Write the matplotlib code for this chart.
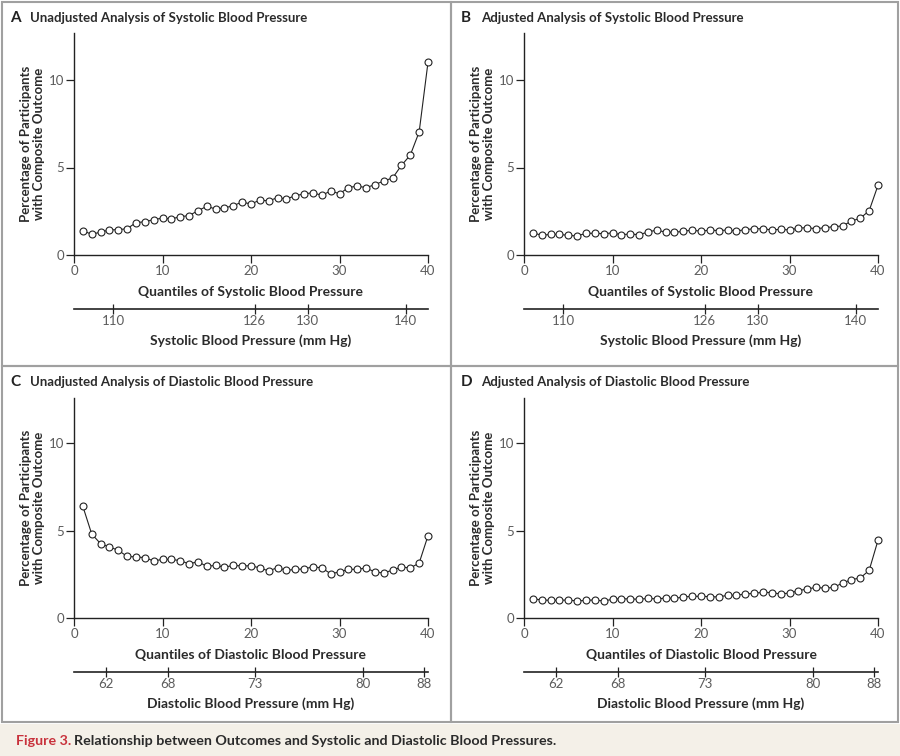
import numpy as np
import matplotlib.pyplot as plt
from matplotlib.patches import Rectangle

plt.rcParams['font.family'] = ['Lato', 'DejaVu Sans']

# quantile index 1..40
quantiles = np.arange(1, 41)

# percentage of participants with composite outcome
sbp_unadjusted = [1.39, 1.18, 1.31, 1.43, 1.45, 1.50, 1.85, 1.90, 2.02, 2.11,
                  2.06, 2.19, 2.25, 2.53, 2.78, 2.63, 2.69, 2.82, 3.03, 2.91,
                  3.14, 3.09, 3.28, 3.20, 3.39, 3.49, 3.56, 3.41, 3.66, 3.50,
                  3.85, 3.94, 3.85, 4.02, 4.23, 4.40, 5.12, 5.71, 7.03, 11.01]
sbp_adjusted = [1.28, 1.12, 1.18, 1.18, 1.12, 1.09, 1.24, 1.24, 1.22, 1.26,
                1.16, 1.20, 1.16, 1.31, 1.43, 1.30, 1.30, 1.35, 1.43, 1.35,
                1.43, 1.39, 1.43, 1.37, 1.45, 1.50, 1.50, 1.43, 1.47, 1.43,
                1.54, 1.56, 1.50, 1.56, 1.62, 1.66, 1.94, 2.10, 2.53, 3.98]
dbp_unadjusted = [6.38, 4.80, 4.25, 4.06, 3.87, 3.52, 3.49, 3.45, 3.26, 3.35,
                  3.35, 3.28, 3.09, 3.22, 2.95, 3.01, 2.90, 3.01, 2.97, 2.99,
                  2.86, 2.69, 2.88, 2.72, 2.78, 2.80, 2.93, 2.86, 2.53, 2.63,
                  2.78, 2.78, 2.86, 2.63, 2.57, 2.74, 2.91, 2.86, 3.14, 4.70]
dbp_adjusted = [1.10, 1.03, 1.01, 1.01, 1.03, 0.97, 1.01, 1.03, 0.97, 1.07,
                1.10, 1.09, 1.07, 1.12, 1.09, 1.14, 1.12, 1.20, 1.24, 1.24,
                1.22, 1.20, 1.30, 1.30, 1.37, 1.41, 1.47, 1.45, 1.37, 1.43,
                1.56, 1.66, 1.75, 1.70, 1.75, 2.00, 2.19, 2.29, 2.72, 4.44]

# blood pressure scale under the quantile axis (position in quantile units)
sbp_tick_pos = [4.45, 20.4, 26.4, 37.5]
sbp_tick_labels = ['110', '126', '130', '140']
dbp_tick_pos = [3.6, 10.6, 20.4, 32.6, 39.6]
dbp_tick_labels = ['62', '68', '73', '80', '88']

W, H = 900, 756
fig = plt.figure(figsize=(9, 7.56), dpi=100)
fig.patch.set_facecolor('white')

grey = '#5c5c5c'
dark = '#2b2b2b'


def fx(px):
    return px / W


def fy(py):
    return 1 - py / H


# panel frames and caption strip
fig.add_artist(Rectangle((0, 0), 1, fy(724), transform=fig.transFigure,
                         facecolor='#f4f0e8', edgecolor='none', zorder=0))
for (x0, y0, x1, y1) in [(2, 2, 451, 366), (451, 2, 898, 366),
                         (2, 366, 451, 722), (451, 366, 898, 722)]:
    fig.add_artist(Rectangle((fx(x0), fy(y1)), fx(x1 - x0), (y1 - y0) / H,
                             transform=fig.transFigure, facecolor='none',
                             edgecolor='#a0a0a0', linewidth=1.5, zorder=1))

panels = [
    ('A', 'Unadjusted Analysis of Systolic Blood Pressure', sbp_unadjusted,
     'Systolic', sbp_tick_pos, sbp_tick_labels, 74, 33, 255, 10, 18),
    ('B', 'Adjusted Analysis of Systolic Blood Pressure', sbp_adjusted,
     'Systolic', sbp_tick_pos, sbp_tick_labels, 524, 33, 255, 461, 18),
    ('C', 'Unadjusted Analysis of Diastolic Blood Pressure', dbp_unadjusted,
     'Diastolic', dbp_tick_pos, dbp_tick_labels, 74, 398, 618, 10, 382),
    ('D', 'Adjusted Analysis of Diastolic Blood Pressure', dbp_adjusted,
     'Diastolic', dbp_tick_pos, dbp_tick_labels, 524, 398, 618, 461, 382),
]

for letter, title, values, kind, tpos, tlab, left, top, bottom, tx, ty in panels:
    ax = fig.add_axes([fx(left), fy(bottom), 354 / W, (bottom - top) / H])
    ax.plot(quantiles, values, color='#222222', linewidth=0.8, marker='o',
            markersize=5, markerfacecolor='white', markeredgecolor='#222222',
            markeredgewidth=0.8, clip_on=False, zorder=3)
    ax.set_xlim(0, 40)
    ax.set_ylim(0, (bottom - top) / 17.5)
    ax.set_xticks([0, 10, 20, 30, 40])
    ax.set_yticks([0, 5, 10])
    ax.spines['top'].set_visible(False)
    ax.spines['right'].set_visible(False)
    for s in ['left', 'bottom']:
        ax.spines[s].set_color('#222222')
        ax.spines[s].set_linewidth(1.0)
    ax.tick_params(axis='both', direction='out', length=6, width=0.9,
                   color='#222222', labelcolor=grey, labelsize=9.5, pad=1)
    ax.set_xlabel('Quantiles of ' + kind + ' Blood Pressure', fontsize=10,
                  fontweight='bold', color=dark, labelpad=7)
    ax.set_ylabel('Percentage of Participants\nwith Composite Outcome',
                  fontsize=9.5, fontweight='bold', color=dark, labelpad=3,
                  linespacing=1.1)

    sec = ax.secondary_xaxis(-(54 / (bottom - top)))
    sec.set_xticks(tpos)
    sec.set_xticklabels(tlab)
    sec.spines['bottom'].set_color('#222222')
    sec.spines['bottom'].set_linewidth(1.2)
    sec.tick_params(axis='x', direction='inout', length=7, width=0.9,
                    color='#222222', labelcolor=grey, labelsize=9.5, pad=1)
    sec.set_xlabel(kind + ' Blood Pressure (mm Hg)', fontsize=10,
                   fontweight='bold', color=dark, labelpad=5)

    fig.text(fx(tx), fy(ty), letter, fontsize=11, fontweight='bold',
             color='#222222', va='center', ha='left')
    fig.text(fx(tx + 20), fy(ty), title, fontsize=9.5, fontweight='bold',
             color=dark, va='center', ha='left')

fig.text(fx(16), fy(741), 'Figure 3.', fontsize=10.3, fontweight='bold',
         color='#c8323c', va='center', ha='left')
fig.text(fx(74), fy(741),
         'Relationship between Outcomes and Systolic and Diastolic Blood Pressures.',
         fontsize=10.3, fontweight='bold', color=dark, va='center', ha='left')

fig.savefig('out.png', dpi=100)
